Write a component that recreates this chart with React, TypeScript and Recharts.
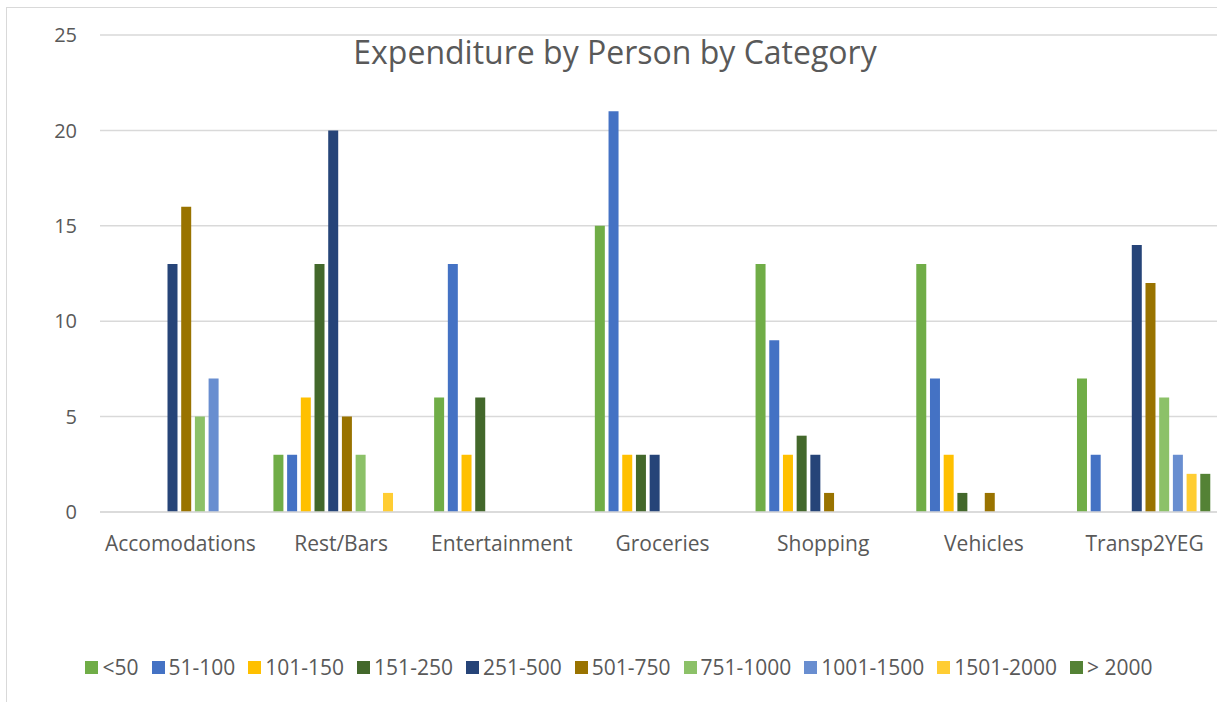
import React from 'react';
import { BarChart, Bar, XAxis, YAxis, CartesianGrid, Legend } from 'recharts';

const categories = ['Accomodations', 'Rest/Bars', 'Entertainment', 'Groceries', 'Shopping', 'Vehicles', 'Transp2YEG'];
const seriesNames = ['<50', '51-100', '101-150', '151-250', '251-500', '501-750', '751-1000', '1001-1500', '1501-2000', '> 2000'];
const seriesColors = ['#70AD47', '#4472C4', '#FFC000', '#43682B', '#264478', '#997300', '#8CC168', '#698ED0', '#FFCD33', '#548235'];

const lt50 = [0, 3, 6, 15, 13, 13, 7];
const s51to100 = [0, 3, 13, 21, 9, 7, 3];
const s101to150 = [0, 6, 3, 3, 3, 3, 0];
const s151to250 = [0, 13, 6, 3, 4, 1, 0];
const s251to500 = [13, 20, 0, 3, 3, 0, 14];
const s501to750 = [16, 5, 0, 0, 1, 1, 12];
const s751to1000 = [5, 3, 0, 0, 0, 0, 6];
const s1001to1500 = [7, 0, 0, 0, 0, 0, 3];
const s1501to2000 = [0, 1, 0, 0, 0, 0, 2];
const gt2000 = [0, 0, 0, 0, 0, 0, 2];

const yTicks = [0, 5, 10, 15, 20, 25];
const title = 'Expenditure by Person by Category';

const seriesValues = [lt50, s51to100, s101to150, s151to250, s251to500, s501to750, s751to1000, s1001to1500, s1501to2000, gt2000];

const data = categories.map((c, i) => {
  const row: Record<string, string | number> = { category: c };
  seriesNames.forEach((n, k) => {
    row[n] = seriesValues[k][i];
  });
  return row;
});

const FONT = '"Open Sans", "Noto Sans", sans-serif';
const TEXT = '#595959';

const LegendContent = () => (
  <div
    style={{
      display: 'flex',
      justifyContent: 'center',
      alignItems: 'center',
      fontFamily: FONT,
      fontSize: 21,
      color: TEXT,
      gap: 13,
    }}
  >
    {seriesNames.map((n, k) => (
      <div key={n} style={{ display: 'flex', alignItems: 'center' }}>
        <span style={{ width: 13, height: 13, background: seriesColors[k], display: 'inline-block', marginRight: 4 }} />
        <span>{n}</span>
      </div>
    ))}
  </div>
);

export default function App() {
  return (
    <div style={{ position: 'fixed', left: 0, top: 0, width: 1217, height: 702, overflow: 'hidden', background: '#fff' }}>
      <div
        style={{
          position: 'absolute',
          left: 6,
          top: 7,
          width: 1300,
          height: 696,
          border: '1.5px solid #d9d9d9',
          boxSizing: 'border-box',
        }}
      />
      <div style={{ position: 'absolute', left: 0, top: 0 }}>
        <BarChart
          width={1240}
          height={702}
          data={data}
          margin={{ top: 35, right: 15, bottom: 0, left: 0 }}
          barCategoryGap={12.7}
          barGap={3.7}
        >
          <CartesianGrid vertical={false} stroke="#d9d9d9" strokeWidth={1.5} />
          <XAxis
            dataKey="category"
            height={190}
            axisLine={{ stroke: '#d9d9d9', strokeWidth: 1.5 }}
            tickLine={false}
            tickMargin={18}
            tick={{ fill: TEXT, fontSize: 21, fontFamily: FONT }}
            interval={0}
          />
          <YAxis
            width={100}
            domain={[0, 25]}
            ticks={yTicks}
            axisLine={false}
            tickLine={false}
            tickSize={0}
            tickMargin={23}
            tick={{ fill: TEXT, fontSize: 20, fontFamily: FONT }}
          />
          <Legend
            layout="horizontal"
            verticalAlign="middle"
            align="center"
            content={<LegendContent />}
            wrapperStyle={{ position: 'absolute', top: 653, left: 0, width: 1238, height: 30 }}
          />
          {seriesNames.map((n, k) => (
            <Bar key={n} dataKey={n} fill={seriesColors[k]} isAnimationActive={false} />
          ))}
          <text
            x={615}
            y={64}
            textAnchor="middle"
            fontFamily={FONT}
            fontSize={32}
            fill={TEXT}
          >
            {title}
          </text>
        </BarChart>
      </div>
    </div>
  );
}
